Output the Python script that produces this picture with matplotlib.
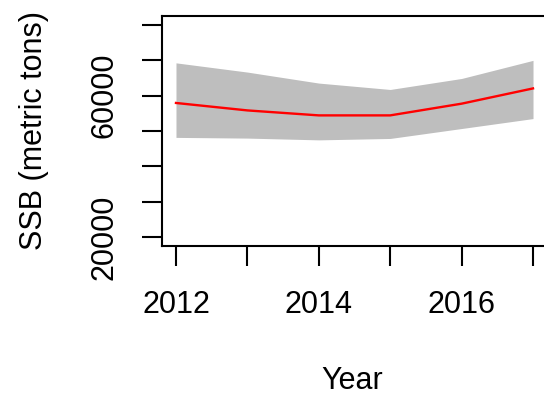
import matplotlib
matplotlib.use('Agg')
import matplotlib.pyplot as plt

# projected spawning stock biomass
years = [2012, 2013, 2014, 2015, 2016, 2017]
ssb_median = [57900, 55800, 54400, 54400, 57700, 62000]
ssb_upper = [69200, 66600, 63500, 61700, 64800, 69900]
ssb_lower = [48200, 48000, 47500, 47900, 50700, 53500]

y_ticks = [20000, 30000, 40000, 50000, 60000, 70000, 80000]
y_labels = ['20000', '', '', '', '60000', '', '']
x_ticks = [2012, 2013, 2014, 2015, 2016, 2017]
x_labels = ['2012', '', '2014', '', '2016', '']

plt.rcParams['font.family'] = ['Liberation Sans', 'DejaVu Sans']

W, H = 544, 399
fig = plt.figure(figsize=(W / 100, H / 100), dpi=100)
left, right, top, bottom = 161.7, 547.3, 16, 246
ax = fig.add_axes([left / W, 1 - bottom / H, (right - left) / W, (bottom - top) / H])

ax.fill_between(years, ssb_lower, ssb_upper, color='#bebebe', lw=0)
ax.plot(years, ssb_median, color='red', lw=1.7)

ax.set_xlim(2011.8, 2017.2)
ax.set_ylim(17600, 82400)

ax.set_xticks(x_ticks)
ax.set_xticklabels(x_labels)
ax.set_yticks(y_ticks)
ax.set_yticklabels(y_labels, rotation=90, va='center')

for s in ax.spines.values():
    s.set_linewidth(1.5)
ax.tick_params(direction='out', length=14.4, width=1.5, labelsize=22, colors='black')
ax.tick_params(axis='x', pad=17)
ax.tick_params(axis='y', pad=16)

ax.set_xlabel('Year', fontsize=22)
ax.set_ylabel('SSB (metric tons)', fontsize=22)
ax.xaxis.set_label_coords((352.5 - left) / (right - left), (bottom - 366) / (bottom - top))
ax.yaxis.set_label_coords((49 - left) / (right - left), 0.5)

fig.savefig('out.png', dpi=100)
